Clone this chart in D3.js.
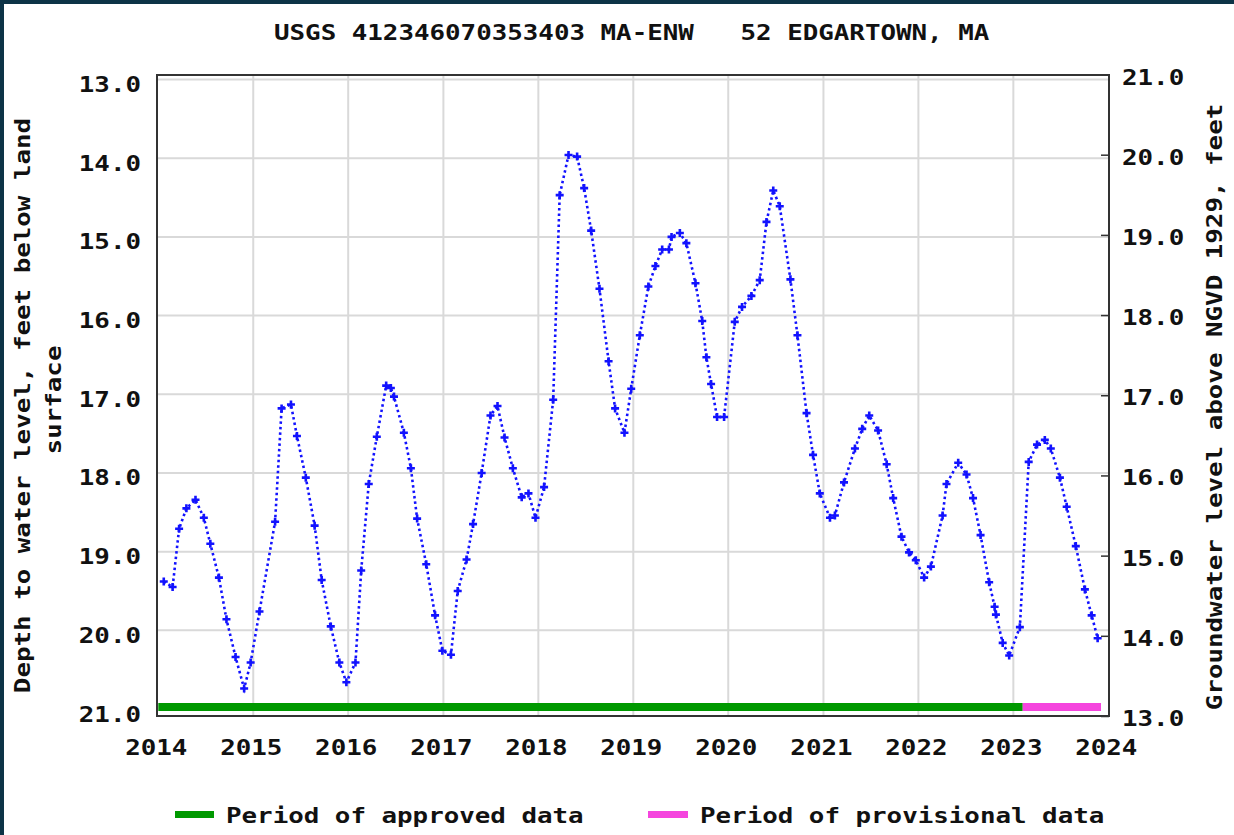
<!DOCTYPE html>
<html><head><meta charset="utf-8">
<script src="https://cdn.jsdelivr.net/npm/d3@7"></script>
<style>html,body{margin:0;padding:0;background:#fff;overflow:hidden} svg{display:block}</style>
</head><body><svg id="c" width="1234" height="835"></svg>
<script>
// ---------- data ----------
const chartTitle = "USGS 412346070353403 MA-ENW   52 EDGARTOWN, MA";
const leftAxisTitle = ["Depth to water level, feet below land", "surface"];
const rightAxisTitle = "Groundwater level above NGVD 1929, feet";
const legendLabels = ["Period of approved data", "Period of provisional data"];

const dates = [
 "2014-01-22","2014-02-25","2014-03-22","2014-04-19","2014-05-24","2014-06-25","2014-07-20","2014-08-22","2014-09-20","2014-10-25","2014-11-27","2014-12-22",
 "2015-01-25","2015-03-26","2015-04-20","2015-05-26","2015-06-18","2015-07-22","2015-08-25","2015-09-21","2015-10-26","2015-11-28","2015-12-25",
 "2016-01-29","2016-02-20","2016-03-20","2016-04-20","2016-05-26","2016-06-13","2016-06-25","2016-08-02","2016-08-29","2016-09-22","2016-10-27","2016-11-30","2016-12-28",
 "2017-01-30","2017-02-25","2017-03-31","2017-04-25","2017-05-28","2017-07-01","2017-07-28","2017-08-24","2017-09-25","2017-10-29","2017-11-24","2017-12-21",
 "2018-01-23","2018-02-27","2018-03-24","2018-04-27","2018-05-30","2018-06-26","2018-07-23","2018-08-24","2018-09-28","2018-10-23","2018-11-28","2018-12-24",
 "2019-01-26","2019-02-28","2019-03-27","2019-04-22","2019-05-18","2019-05-28","2019-06-29","2019-07-24","2019-08-28","2019-09-23","2019-10-09","2019-10-27","2019-11-19","2019-12-16",
 "2020-01-26","2020-02-23","2020-03-30","2020-05-01","2020-05-27","2020-06-22","2020-07-17","2020-08-27","2020-09-23","2020-10-28","2020-11-22","2020-12-18",
 "2021-01-26","2021-02-14","2021-03-21","2021-05-02","2021-05-30","2021-06-26","2021-07-30","2021-09-01","2021-09-26","2021-10-28","2021-11-26","2021-12-22",
 "2022-01-23","2022-02-18","2022-04-04","2022-04-19","2022-06-03","2022-07-05","2022-07-30","2022-08-28","2022-09-30","2022-10-21","2022-10-26","2022-11-21","2022-12-16",
 "2023-01-26","2023-03-01","2023-04-02","2023-05-02","2023-05-25","2023-06-29","2023-07-25","2023-08-29","2023-10-03","2023-10-29","2023-11-21"
];
const depths = [
 19.38,19.45,18.71,18.45,18.34,18.57,18.90,19.33,19.86,20.34,20.74,20.41,
 19.76,18.62,17.18,17.13,17.53,18.06,18.67,19.36,19.95,20.41,20.66,
 20.41,19.24,18.14,17.54,16.89,16.92,17.03,17.49,17.94,18.58,19.16,19.81,20.26,
 20.31,19.50,19.10,18.65,18.00,17.27,17.15,17.55,17.94,18.31,18.26,18.57,
 18.18,17.07,14.47,13.96,13.98,14.38,14.92,15.66,16.58,17.18,17.49,16.93,
 16.25,15.63,15.37,15.16,15.16,15.00,14.95,15.08,15.59,16.07,16.53,16.87,17.29,17.29,
 16.08,15.89,15.75,15.55,14.81,14.41,14.61,15.54,16.25,17.24,17.77,18.26,
 18.57,18.54,18.12,17.69,17.44,17.27,17.46,17.89,18.32,18.81,19.01,19.11,
 19.33,19.19,18.54,18.14,17.87,18.02,18.32,18.79,19.39,19.70,19.80,20.16,20.32,
 19.96,17.86,17.64,17.58,17.69,18.06,18.43,18.93,19.48,19.81,20.10
];
const leftTicks = [13,14,15,16,17,18,19,20,21];
const rightTicks = [13,14,15,16,17,18,19,20,21];
const yearTicks = [2014,2015,2016,2017,2018,2019,2020,2021,2022,2023,2024];
const approvedPeriod = ["2014-01-01","2023-02-06"];
const provisionalPeriod = ["2023-02-06","2023-12-04"];

// ---------- layout ----------
const W = 1234, H = 835;
const box = {l:157, r:1109, t:75, b:716};
const parse = d3.timeParse("%Y-%m-%d");
const x = d3.scaleTime().domain([new Date(2014,0,1), new Date(2024,0,1)]).range([158.3, 1108.3]);
const y = d3.scaleLinear().domain([13,21]).range([79.5, 709]);
const yR = d3.scaleLinear().domain([21,13]).range([75, 716.5]);

const FONT = "'DejaVu Sans Mono', 'Liberation Mono', monospace";
const FS = 22, CAP = 0.729*FS, CW = 15.55;
const svg = d3.select("#c");
function fit(sel, s){ return sel.attr("textLength", s.length*CW).attr("lengthAdjust","spacingAndGlyphs"); }
function txt(g, s, xx, yy, anchor){
  const t = g.append("text").attr("x",xx).attr("y",yy + CAP/2).attr("text-anchor",anchor||"middle")
    .attr("font-family",FONT).attr("font-weight","bold").attr("font-size",FS).attr("fill","#111")
    .style("white-space","pre").text(s);
  fit(t, s); return t;
}

// page frame
svg.append("rect").attr("width",W).attr("height",H).attr("fill","#fff");
svg.append("rect").attr("x",0).attr("y",0).attr("width",4).attr("height",H).attr("fill","#0d3346");
svg.append("rect").attr("x",0).attr("y",0).attr("width",W).attr("height",4).attr("fill","#0d3346");

// title
txt(svg, chartTitle, 274, 32, "start");

// grid
const grid = svg.append("g").attr("stroke","#d9d9d9").attr("stroke-width",2);
grid.selectAll("line.h").data(leftTicks.slice(0,-1)).join("line")
  .attr("x1",box.l).attr("x2",box.r).attr("y1",d=>y(d)).attr("y2",d=>y(d));
grid.selectAll("line.v").data(yearTicks.slice(1,-1)).join("line").attr("class","v")
  .attr("x1",d=>x(new Date(d,0,1))).attr("x2",d=>x(new Date(d,0,1))).attr("y1",box.t).attr("y2",box.b);

// period bars
const barY = y(21) - 6, barH = 8;
svg.append("rect").attr("x",x(parse(approvedPeriod[0]))).attr("y",barY)
  .attr("width",x(parse(approvedPeriod[1]))-x(parse(approvedPeriod[0]))).attr("height",barH).attr("fill","#009900");
svg.append("rect").attr("x",x(parse(provisionalPeriod[0]))).attr("y",barY)
  .attr("width",x(parse(provisionalPeriod[1]))-x(parse(provisionalPeriod[0]))).attr("height",barH).attr("fill","#f545de");

// box
svg.append("rect").attr("x",box.l).attr("y",box.t).attr("width",box.r-box.l).attr("height",box.b-box.t)
  .attr("fill","none").attr("stroke","#333").attr("stroke-width",2);

// right ticks
svg.append("g").selectAll("line").data(rightTicks).join("line")
  .attr("x1",box.r-8).attr("x2",box.r).attr("y1",d=>yR(d)).attr("y2",d=>yR(d))
  .attr("stroke","#333").attr("stroke-width",1.5);

// axis labels
const fmt = d3.format(".1f");
leftTicks.forEach(d => txt(svg, fmt(d), 141, y(d)+4.5, "end"));
rightTicks.forEach(d => txt(svg, fmt(d), 1122, yR(d)+1.5, "start"));
yearTicks.forEach(d => txt(svg, String(d), x(new Date(d,0,1))-2, 746.5, "middle"));

// axis titles
function vtxt(s, cx, cy){
  const g = svg.append("g").attr("transform",`translate(${cx},${cy}) rotate(-90)`);
  txt(g, s, 0, 0, "middle");
}
vtxt(leftAxisTitle[0], 22, 405.5);
vtxt(leftAxisTitle[1], 52.5, 400);
vtxt(rightAxisTitle, 1214, 407);

// data
const pts = dates.map((d,i)=>({d:parse(d), v:depths[i]}));
svg.append("path").datum(pts)
  .attr("d", d3.line().x(p=>x(p.d)).y(p=>y(p.v)))
  .attr("fill","none").attr("stroke","#1212ff").attr("stroke-width",2.6).attr("stroke-dasharray","2.5,3");
svg.append("g").selectAll("path").data(pts).join("path")
  .attr("transform",p=>`translate(${x(p.d)},${y(p.v)})`)
  .attr("d","M-4,0H4M0,-4V4").attr("stroke","#1212ff").attr("stroke-width",2.6).attr("fill","none");

// legend
svg.append("rect").attr("x",175).attr("y",811).attr("width",39).attr("height",7).attr("fill","#009900");
txt(svg, legendLabels[0], 226, 815, "start");
svg.append("rect").attr("x",648).attr("y",811).attr("width",40).attr("height",7).attr("fill","#f545de");
txt(svg, legendLabels[1], 700, 815, "start");
</script></body></html>
